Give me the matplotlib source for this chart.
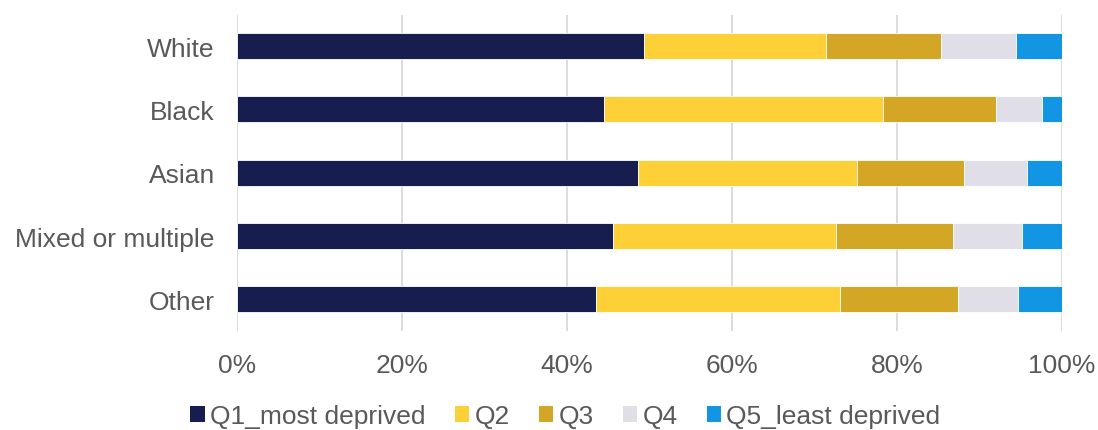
import matplotlib
matplotlib.use("Agg")
import matplotlib.pyplot as plt
from matplotlib.ticker import PercentFormatter
from matplotlib.patches import Patch

# Data (% share)
groups = ["White", "Black", "Asian", "Mixed or multiple", "Other"]
series = ["Q1_most deprived", "Q2", "Q3", "Q4", "Q5_least deprived"]
q1 = [49.3, 44.5, 48.6, 45.6, 43.5]
q2 = [22.1, 33.8, 26.5, 27.0, 29.6]
q3 = [13.9, 13.7, 13.0, 14.2, 14.3]
q4 = [9.1, 5.6, 7.7, 8.4, 7.3]
q5 = [5.6, 2.4, 4.2, 4.8, 5.3]
colors = ["#171E4F", "#FDD037", "#D4A625", "#E0DFE8", "#1295E3"]

plt.rcParams["font.family"] = ["Liberation Sans", "DejaVu Sans"]
text_col = "#595959"

fig = plt.figure(figsize=(10.98, 4.31), dpi=100)
ax = fig.add_axes([0.2158, 0.2297, 0.7514, 0.7343])

ypos = list(range(len(groups)))
left = [0] * len(groups)
for name, vals, c in zip(series, [q1, q2, q3, q4, q5], colors):
    ax.barh(ypos, vals, left=left, height=0.41, color=c, label=name,
            edgecolor="white", linewidth=0.6, zorder=3)
    left = [a + b for a, b in zip(left, vals)]

ax.set_xlim(0, 100)
ax.set_ylim(len(groups) - 0.5, -0.5)
ax.set_yticks(ypos)
ax.set_yticklabels(groups)
ax.set_xticks(range(0, 101, 20))
ax.xaxis.set_major_formatter(PercentFormatter(decimals=0))
ax.tick_params(axis="both", length=0, labelsize=19, labelcolor=text_col)
ax.tick_params(axis="x", pad=16)
ax.tick_params(axis="y", pad=16)
ax.grid(axis="x", color="#D9D9D9", linewidth=1.3, zorder=0)
for s in ax.spines.values():
    s.set_visible(False)

# legend along the bottom
handles = [Patch(facecolor=c, edgecolor="none") for c in colors]
leg = fig.legend(handles, series, loc="center", bbox_to_anchor=(0.515, 0.032),
                 ncol=5, frameon=False, fontsize=19, handlelength=0.55,
                 handleheight=0.55, handletextpad=0.2, columnspacing=1.1)
for t in leg.get_texts():
    t.set_color(text_col)

fig.savefig("out.png", dpi=100)
